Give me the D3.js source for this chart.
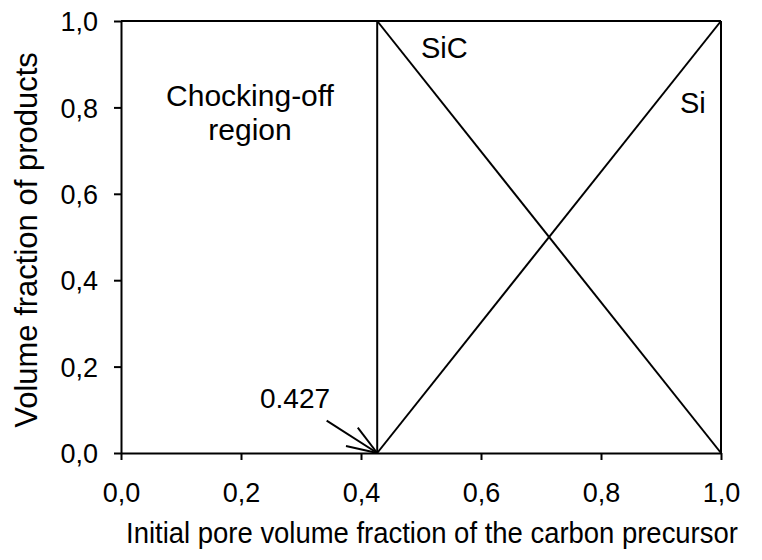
<!DOCTYPE html>
<html>
<head>
<meta charset="utf-8">
<script src="https://cdn.jsdelivr.net/npm/d3@7.9.0/dist/d3.min.js"></script>
<style>
  body { margin: 0; background: #fff; }
  text { font-family: "Liberation Sans", Arial, sans-serif; fill: #000; }
</style>
</head>
<body>
<svg id="chart" width="762" height="560"></svg>
<script>
// Axis ticks
const xTicks = [0, 0.2, 0.4, 0.6, 0.8, 1.0];
const yTicks = [0, 0.2, 0.4, 0.6, 0.8, 1.0];

// Threshold (chocking-off boundary)
const threshold = 0.427;

// Product lines
const sicX = [0.427, 1.0];
const sicY = [1.0, 0.0];
const siX = [0.427, 1.0];
const siY = [0.0, 1.0];

const svg = d3.select("#chart");
const margin = { left: 121, right: 41, top: 21, bottom: 107 };
const width = 762 - margin.left - margin.right;
const height = 560 - margin.top - margin.bottom;

const x = d3.scaleLinear().domain([0, 1]).range([margin.left, margin.left + width]);
const y = d3.scaleLinear().domain([0, 1]).range([margin.top + height, margin.top]);

const fmt = d => d3.format(".1f")(d).replace(".", ",");

// x axis
const xAxis = svg.append("g")
    .attr("transform", `translate(0,${y(0)})`)
    .call(d3.axisBottom(x).tickValues(xTicks).tickFormat(fmt).tickSize(7).tickSizeOuter(0).tickPadding(23));

// y axis
const yAxis = svg.append("g")
    .attr("transform", `translate(${x(0)},0)`)
    .call(d3.axisLeft(y).tickValues(yTicks).tickFormat(fmt).tickSize(7).tickSizeOuter(0).tickPadding(16));

[xAxis, yAxis].forEach(g => {
    g.selectAll("path, line").attr("stroke", "#000").attr("stroke-width", 2);
    g.selectAll("text").attr("font-size", 27).attr("font-family", "Liberation Sans, Arial, sans-serif").attr("fill", "#000");
});
yAxis.selectAll("text").attr("dy", "0.36em");

// frame: top and right
svg.append("line")
    .attr("x1", x(0)).attr("x2", x(1)).attr("y1", y(1)).attr("y2", y(1))
    .attr("stroke", "#000").attr("stroke-width", 2);
svg.append("line")
    .attr("x1", x(1)).attr("x2", x(1)).attr("y1", y(0)).attr("y2", y(1))
    .attr("stroke", "#000").attr("stroke-width", 2);

// threshold vertical
svg.append("line")
    .attr("x1", x(threshold)).attr("x2", x(threshold)).attr("y1", y(0)).attr("y2", y(1))
    .attr("stroke", "#000").attr("stroke-width", 2);

// product lines
const line = d3.line().x(d => x(d[0])).y(d => y(d[1]));
[[sicX, sicY], [siX, siY]].forEach(([xs, ys]) => {
    svg.append("path")
        .datum(xs.map((v, i) => [v, ys[i]]))
        .attr("d", line)
        .attr("fill", "none")
        .attr("stroke", "#000")
        .attr("stroke-width", 2);
});

// arrow pointing to threshold
const tipX = x(threshold), tipY = y(0);
const ang = Math.atan2(-32, -50);
const shaftLen = 60, headLen = 32, headAng = 20 * Math.PI / 180;
const arrow = svg.append("g").attr("stroke", "#000").attr("stroke-width", 2);
arrow.append("line")
    .attr("x1", tipX + shaftLen * Math.cos(ang)).attr("y1", tipY + shaftLen * Math.sin(ang))
    .attr("x2", tipX).attr("y2", tipY);
[-1, 1].forEach(s => {
    arrow.append("line")
        .attr("x1", tipX + headLen * Math.cos(ang + s * headAng))
        .attr("y1", tipY + headLen * Math.sin(ang + s * headAng))
        .attr("x2", tipX).attr("y2", tipY);
});

// annotations
svg.append("text").attr("x", 260).attr("y", 408).attr("font-size", 28).text("0.427");
svg.append("text").attr("x", 250).attr("y", 106).attr("font-size", 30)
    .attr("text-anchor", "middle").text("Chocking-off");
svg.append("text").attr("x", 250).attr("y", 140).attr("font-size", 30)
    .attr("text-anchor", "middle").text("region");
svg.append("text").attr("x", 421).attr("y", 58).attr("font-size", 29).text("SiC");
svg.append("text").attr("x", 680).attr("y", 113).attr("font-size", 29).text("Si");

// axis titles (slightly condensed horizontally, as in the original)
svg.append("text")
    .attr("transform", "translate(432,543) scale(0.915,1)")
    .attr("font-size", 30).attr("text-anchor", "middle")
    .text("Initial pore volume fraction of the carbon precursor");
svg.append("text")
    .attr("transform", `translate(37,240) rotate(-90)`)
    .attr("font-size", 31).attr("text-anchor", "middle")
    .text("Volume fraction of products");
</script>
</body>
</html>
